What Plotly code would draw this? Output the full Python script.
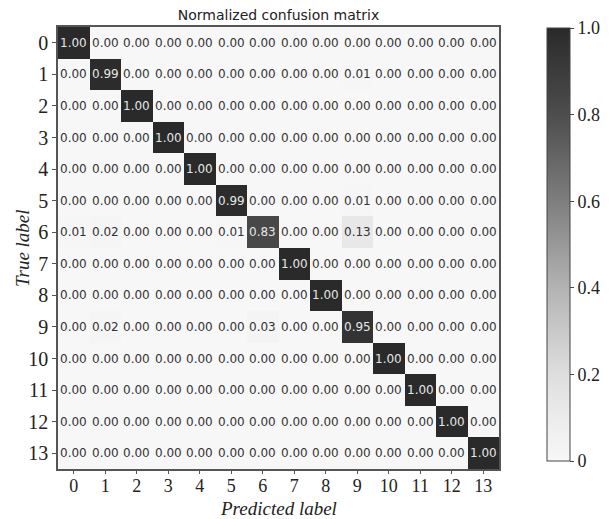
import plotly.graph_objects as go

labels = [str(i) for i in range(14)]

row0 = [1.00, 0, 0, 0, 0, 0, 0, 0, 0, 0, 0, 0, 0, 0]
row1 = [0, 0.99, 0, 0, 0, 0, 0, 0, 0, 0.01, 0, 0, 0, 0]
row2 = [0, 0, 1.00, 0, 0, 0, 0, 0, 0, 0, 0, 0, 0, 0]
row3 = [0, 0, 0, 1.00, 0, 0, 0, 0, 0, 0, 0, 0, 0, 0]
row4 = [0, 0, 0, 0, 1.00, 0, 0, 0, 0, 0, 0, 0, 0, 0]
row5 = [0, 0, 0, 0, 0, 0.99, 0, 0, 0, 0.01, 0, 0, 0, 0]
row6 = [0.01, 0.02, 0, 0, 0, 0.01, 0.83, 0, 0, 0.13, 0, 0, 0, 0]
row7 = [0, 0, 0, 0, 0, 0, 0, 1.00, 0, 0, 0, 0, 0, 0]
row8 = [0, 0, 0, 0, 0, 0, 0, 0, 1.00, 0, 0, 0, 0, 0]
row9 = [0, 0.02, 0, 0, 0, 0, 0.03, 0, 0, 0.95, 0, 0, 0, 0]
row10 = [0, 0, 0, 0, 0, 0, 0, 0, 0, 0, 1.00, 0, 0, 0]
row11 = [0, 0, 0, 0, 0, 0, 0, 0, 0, 0, 0, 1.00, 0, 0]
row12 = [0, 0, 0, 0, 0, 0, 0, 0, 0, 0, 0, 0, 1.00, 0]
row13 = [0, 0, 0, 0, 0, 0, 0, 0, 0, 0, 0, 0, 0, 1.00]

z = [row0, row1, row2, row3, row4, row5, row6, row7, row8, row9,
     row10, row11, row12, row13]

cbar_vals = [0, 0.2, 0.4, 0.6, 0.8, 1.0]
cbar_text = ["0", "0.2", "0.4", "0.6", "0.8", "1.0"]

serif = "Liberation Serif, Times New Roman, serif"
sans = "DejaVu Sans, sans-serif"

L, R, T, B = 58, 499, 27, 469
W, H = 616, 519
pw, ph = R - L, B - T

greys = [[0.0, "#f7f7f7"], [0.1, "#ececec"], [0.2, "#dedede"],
         [0.4, "#b3b3b3"], [0.6, "#7e7e7e"], [0.8, "#4d4d4d"],
         [1.0, "#2a2a2a"]]

fig = go.Figure()
fig.add_trace(go.Heatmap(
    z=z, x=labels, y=labels,
    zmin=0, zmax=1,
    colorscale=greys,
    xgap=0, ygap=0,
    hoverinfo="skip",
    colorbar=dict(
        x=(547 - L) / pw, xanchor="left", xpad=0,
        y=(B - 28) / ph, yanchor="top", ypad=0,
        len=433 / ph, lenmode="fraction",
        thickness=23,
        outlinewidth=1, outlinecolor="#444",
        tickvals=cbar_vals, ticktext=cbar_text,
        ticks="outside", ticklen=4, tickcolor="#444",
        tickfont=dict(family=serif, size=18, color="#222"),
    ),
))

annotations = []
for i, row in enumerate(z):
    for j, v in enumerate(row):
        annotations.append(dict(
            x=labels[j], y=labels[i], text=f"{v:.2f}",
            showarrow=False, xref="x", yref="y",
            font=dict(family=sans, size=12,
                      color="#e6e6e6" if v > 0.5 else "#333333"),
        ))

annotations.append(dict(
    text="<i>Predicted label</i>", xref="paper", yref="paper",
    x=0.5, y=-(509 - B) / ph, xanchor="center", yanchor="middle",
    showarrow=False, font=dict(family=serif, size=19, color="#222"),
))
annotations.append(dict(
    text="<i>True label</i>", xref="paper", yref="paper",
    x=-(L - 22) / pw, y=0.5, xanchor="center", yanchor="middle",
    textangle=-90,
    showarrow=False, font=dict(family=serif, size=19, color="#222"),
))

fig.update_layout(
    width=W, height=H,
    margin=dict(l=L, r=W - R, t=T, b=H - B, autoexpand=False),
    paper_bgcolor="white", plot_bgcolor="white",
    title=dict(text="Normalized confusion matrix", x=(L + R) / 2 / W,
               xanchor="center", y=1 - 15 / H, yanchor="middle",
               font=dict(family=sans, size=14, color="#222")),
    annotations=annotations,
)
fig.update_xaxes(
    type="category", automargin=False,
    showline=True, mirror=True, linecolor="#555", linewidth=1.5,
    ticks="outside", ticklen=3, tickcolor="#555", ticklabelstandoff=-3,
    tickfont=dict(family=serif, size=18, color="#222"),
    showgrid=False, zeroline=False,
)
fig.update_yaxes(
    type="category", autorange="reversed", automargin=False,
    showline=True, mirror=True, linecolor="#555", linewidth=1.5,
    ticks="outside", ticklen=4, tickcolor="#555",
    tickfont=dict(family=serif, size=20, color="#222"),
    showgrid=False, zeroline=False,
)

fig.write_html("out.html", config={"displayModeBar": False},
               post_script="document.body.style.margin='0';document.body.style.padding='0';")
